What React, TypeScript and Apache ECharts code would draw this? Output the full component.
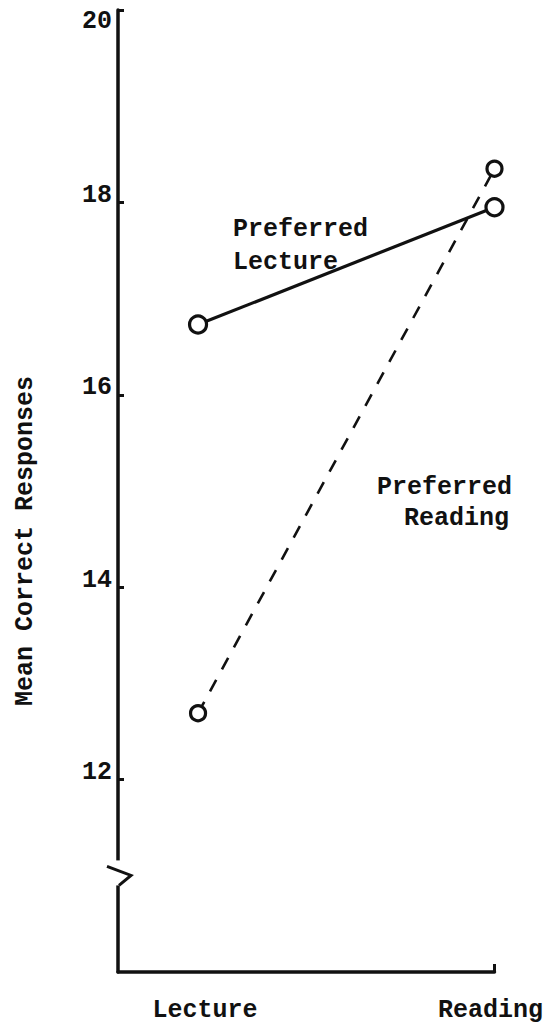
import React, { useEffect, useRef } from "react";
import * as echarts from "echarts";

const categories = ["Lecture", "Reading"];
const categoryPos = [0, 1];
const preferredLecture = [16.73, 17.95];
const preferredReading = [12.69, 18.35];
const yTickValues = [12, 14, 16, 18, 20];
const yAxisTitle = "Mean Correct Responses";
const labelPrefLecture = ["Preferred", "Lecture"];
const labelPrefReading = ["Preferred", "Reading"];

const FONT = "'Liberation Mono', 'DejaVu Sans Mono', monospace";
const INK = "#111";

export default function App() {
  const ref = useRef<HTMLDivElement>(null);
  useEffect(() => {
    document.body.style.margin = "0";
    const chart = echarts.init(ref.current!, null, { renderer: "svg" });
    const toPts = (vals: number[]) => categoryPos.map((x, i) => [x, vals[i]]);
    const lblStyle = { fontFamily: FONT, fontWeight: "bold", fontSize: 25, color: INK };
    chart.setOption({
      animation: false,
      backgroundColor: "#fff",
      grid: { left: 118, right: 51, top: 10, bottom: 55 },
      xAxis: {
        type: "value",
        min: -0.27,
        max: 1,
        splitLine: { show: false },
        axisLine: { show: true, onZero: false, lineStyle: { color: INK, width: 3.5 } },
        axisTick: { show: true, inside: true, length: 8, customValues: [1], lineStyle: { color: INK, width: 3 } },
        axisLabel: {
          customValues: categoryPos,
          margin: 26,
          formatter: (v: number) => {
            const i = categoryPos.indexOf(Math.round(v));
            if (i < 0) return "";
            return i === 0 ? `{l|${categories[i]}}` : `{r|${categories[i]}}`;
          },
          rich: {
            l: { ...lblStyle, padding: [0, 0, 0, 14] },
            r: { ...lblStyle, padding: [0, 8, 0, 0] },
          },
        },
      },
      yAxis: {
        type: "value",
        min: 10,
        max: 20,
        splitLine: { show: false },
        axisLine: { show: true, onZero: false, lineStyle: { color: INK, width: 3.5 } },
        axisTick: { show: true, inside: true, length: 6, customValues: yTickValues, lineStyle: { color: INK, width: 3 } },
        axisLabel: {
          customValues: yTickValues,
          margin: 6,
          formatter: (v: number) => (v === 20 ? `{t|${v}}` : `{n|${v}}`),
          rich: {
            t: { ...lblStyle, padding: [22, 0, 0, 0] },
            n: { ...lblStyle, padding: [0, 0, 14, 0] },
          },
        },
      },
      series: [
        {
          name: "Preferred Lecture",
          type: "line",
          data: toPts(preferredLecture),
          symbol: "circle",
          symbolSize: 17,
          itemStyle: { color: "#fff", borderColor: INK, borderWidth: 3.2 },
          lineStyle: { color: INK, width: 3.2, type: "solid" },
          z: 3,
        },
        {
          name: "Preferred Reading",
          type: "line",
          data: toPts(preferredReading),
          symbol: "circle",
          symbolSize: 15,
          itemStyle: { color: "#fff", borderColor: INK, borderWidth: 3.2 },
          lineStyle: { color: INK, width: 2.6, type: [13, 12] },
          z: 2,
        },
      ],
    });

    const [axX, yTop] = chart.convertToPixel({ gridIndex: 0 }, [-0.27, 11.16]) as number[];
    const [, yBot] = chart.convertToPixel({ gridIndex: 0 }, [-0.27, 10.9]) as number[];
    const txt = (text: string, x: number, y: number, align: string) => ({
      type: "text",
      x,
      y,
      z: 100,
      style: {
        text,
        fill: INK,
        font: `bold 25px ${FONT}`,
        align,
        verticalAlign: "middle",
      },
    });
    chart.setOption({
      graphic: [
        { type: "rect", z: 100, shape: { x: axX - 4, y: yTop, width: 8, height: yBot - yTop }, style: { fill: "#fff" } },
        {
          type: "polyline",
          z: 101,
          shape: { points: [[axX - 11, yTop + 6], [axX + 13, yTop + 15], [axX + 1, yBot]] },
          style: { stroke: INK, lineWidth: 3, fill: null },
        },
        {
          type: "text",
          x: 25,
          y: 541,
          rotation: Math.PI / 2,
          z: 100,
          style: { text: yAxisTitle, fill: INK, font: `bold 25px ${FONT}`, align: "center", verticalAlign: "middle" },
        },
        txt(labelPrefLecture[0], 233, 229, "left"),
        txt(labelPrefLecture[1], 233, 262, "left"),
        txt(labelPrefReading[0], 512, 487, "right"),
        txt(labelPrefReading[1], 509, 518, "right"),
      ],
    });
    return () => chart.dispose();
  }, []);
  return <div ref={ref} style={{ width: 546, height: 1027 }} />;
}
